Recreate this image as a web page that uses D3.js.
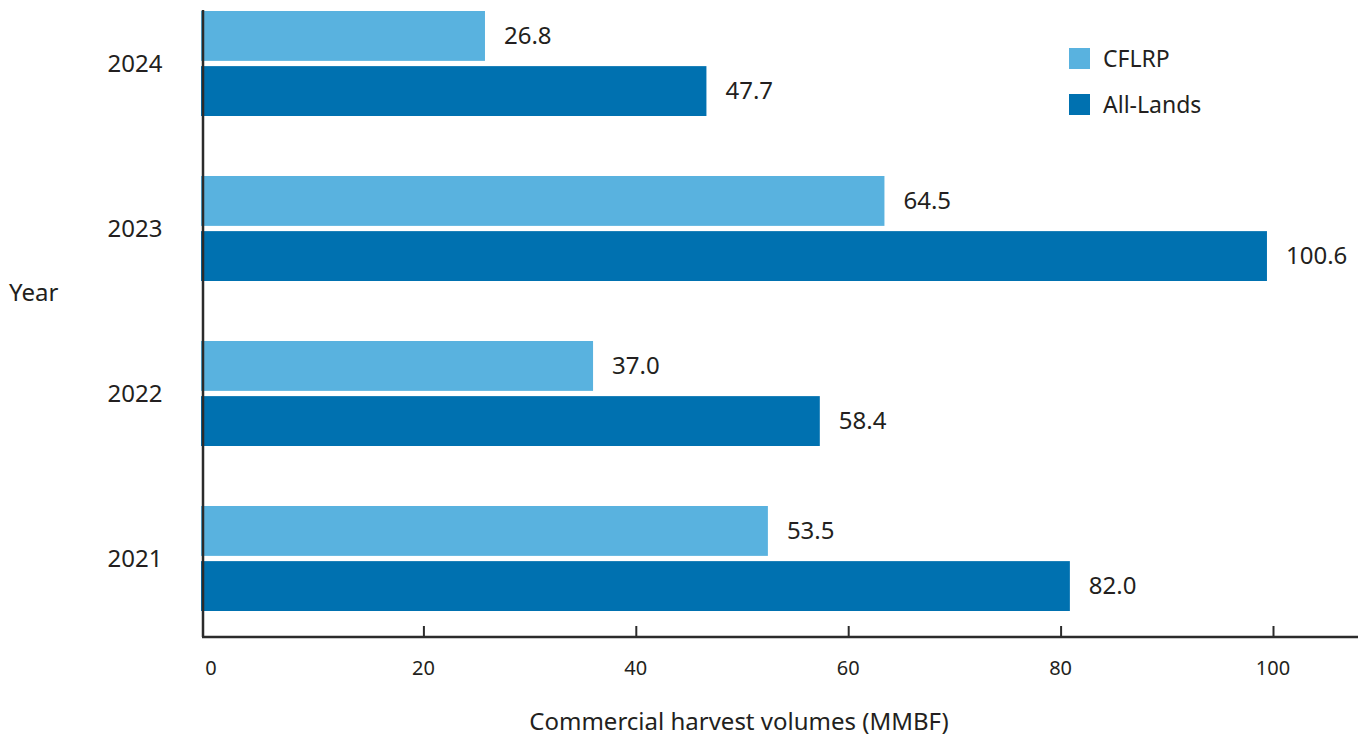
<!DOCTYPE html>
<html>
<head>
<meta charset="utf-8">
<script src="https://cdn.jsdelivr.net/npm/d3@7"></script>
<style>
  html, body { margin: 0; padding: 0; background: #ffffff; }
  svg { display: block; font-family: "Noto Sans", "Open Sans", sans-serif; }
</style>
</head>
<body>
<svg id="chart" width="1360" height="736"></svg>
<script>
// Commercial harvest volumes by year (MMBF)
const years = ["2024", "2023", "2022", "2021"];
const seriesNames = ["CFLRP", "All-Lands"];
const cflrpValues = [26.8, 64.5, 37.0, 53.5];
const allLandsValues = [47.7, 100.6, 58.4, 82.0];
const xTicks = [0, 20, 40, 60, 80, 100];
const seriesColors = ["#59b2df", "#0071b0"];

const textColor = "#231f20";
const axisColor = "#2b2b2b";

const svg = d3.select("#chart");

const rows = years.map((year, i) => ({
  year,
  values: [
    { series: seriesNames[0], value: cflrpValues[i] },
    { series: seriesNames[1], value: allLandsValues[i] }
  ]
}));

// Plot frame
const axisLeftX = 203;
const axisBottomY = 637;
const axisRightX = 1358;

// Bar length scale
const x = d3.scaleLinear().domain([0, 100]).range([201, 1260.6]);
// Tick placement scale for the value axis
const xAxisScale = d3.scaleLinear().domain([0, 100]).range([211, 1273]);

const y = d3.scaleBand()
  .domain(years)
  .range([11, 611])
  .paddingInner(60 / 165)
  .paddingOuter(0);

const ySub = d3.scaleBand()
  .domain(seriesNames)
  .range([0, y.bandwidth()])
  .paddingInner(5 / 52.5)
  .paddingOuter(0);

const color = d3.scaleOrdinal().domain(seriesNames).range(seriesColors);

// Bars
const groups = svg.append("g")
  .selectAll("g")
  .data(rows)
  .join("g")
  .attr("transform", d => `translate(0,${y(d.year)})`);

groups.selectAll("rect")
  .data(d => d.values)
  .join("rect")
  .attr("x", x(0))
  .attr("y", d => ySub(d.series))
  .attr("width", d => x(d.value) - x(0))
  .attr("height", ySub.bandwidth())
  .attr("fill", d => color(d.series));

// Value labels
groups.selectAll("text")
  .data(d => d.values)
  .join("text")
  .attr("x", d => x(d.value) + 19)
  .attr("y", d => ySub(d.series) + ySub.bandwidth() / 2)
  .attr("dy", "0.35em")
  .attr("fill", textColor)
  .attr("font-size", 24)
  .text(d => d.value.toFixed(1));

// Year labels
svg.append("g")
  .selectAll("text")
  .data(years)
  .join("text")
  .attr("x", 135)
  .attr("y", d => y(d) + y.bandwidth() / 2)
  .attr("dy", "0.35em")
  .attr("text-anchor", "middle")
  .attr("fill", textColor)
  .attr("font-size", 24)
  .text(d => d);

// Bottom axis: ticks pointing up into the plot
const xAxis = d3.axisBottom(xAxisScale)
  .tickValues(xTicks.filter(t => t > 0))
  .tickSize(-11)
  .tickSizeOuter(0)
  .tickFormat(d3.format("d"));

const gx = svg.append("g")
  .attr("transform", `translate(0,${axisBottomY})`)
  .call(xAxis);
gx.select(".domain").remove();
gx.selectAll(".tick line").attr("stroke", axisColor).attr("stroke-width", 2);
gx.selectAll(".tick text").remove();

// Tick labels (including zero at the corner)
svg.append("g")
  .selectAll("text")
  .data(xTicks)
  .join("text")
  .attr("x", d => xAxisScale(d))
  .attr("y", 668)
  .attr("dy", "0.35em")
  .attr("text-anchor", "middle")
  .attr("fill", textColor)
  .attr("font-size", 20)
  .text(d => d);

// Axis lines
svg.append("line")
  .attr("x1", axisLeftX - 1).attr("x2", axisRightX)
  .attr("y1", axisBottomY).attr("y2", axisBottomY)
  .attr("stroke", axisColor).attr("stroke-width", 2.5);
svg.append("line")
  .attr("x1", axisLeftX).attr("x2", axisLeftX)
  .attr("y1", 10).attr("y2", axisBottomY)
  .attr("stroke", axisColor).attr("stroke-width", 2.5);

// Axis titles
svg.append("text")
  .attr("x", 739)
  .attr("y", 722)
  .attr("dy", "0.35em")
  .attr("text-anchor", "middle")
  .attr("fill", textColor)
  .attr("font-size", 24)
  .text("Commercial harvest volumes (MMBF)");

svg.append("text")
  .attr("x", 9)
  .attr("y", 293)
  .attr("dy", "0.35em")
  .attr("fill", textColor)
  .attr("font-size", 24)
  .text("Year");

// Legend
const legend = svg.append("g")
  .selectAll("g")
  .data(seriesNames)
  .join("g")
  .attr("transform", (d, i) => `translate(1069,${48 + i * 46})`);

legend.append("rect")
  .attr("width", 21)
  .attr("height", 21)
  .attr("fill", d => color(d));

legend.append("text")
  .attr("x", 34)
  .attr("y", 10.5)
  .attr("dy", "0.35em")
  .attr("fill", textColor)
  .attr("font-size", 23)
  .text(d => d);
</script>
</body>
</html>
